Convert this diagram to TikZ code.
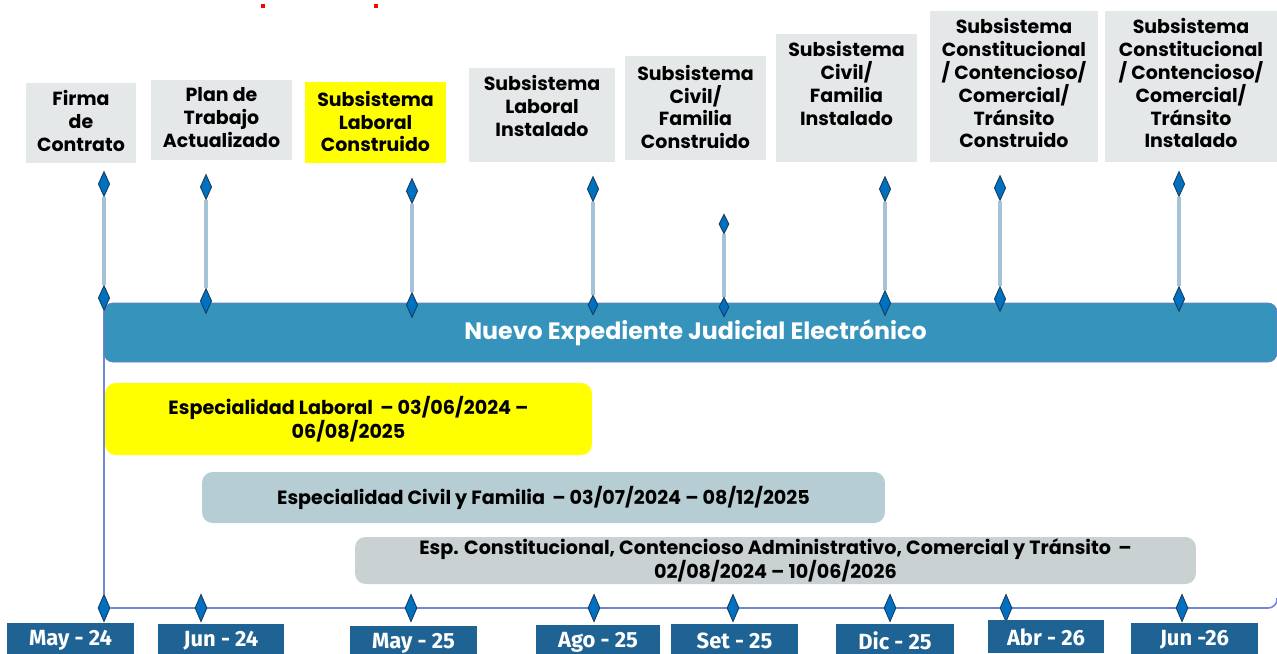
\documentclass[tikz,border=0pt]{standalone}
\usepackage{fontspec}
\setmainfont{Poppins}
\newfontfamily\firafont{Fira Sans}
\usetikzlibrary{positioning, shapes.geometric, backgrounds}
\definecolor{msgray}{RGB}{229, 232, 233}
\definecolor{msyellow}{RGB}{255, 255, 0}
\definecolor{barblue}{RGB}{54, 147, 187}
\definecolor{baredge}{RGB}{105, 125, 200}
\definecolor{civilbar}{RGB}{182, 205, 211}
\definecolor{constbar}{RGB}{201, 209, 211}
\definecolor{datenavy}{RGB}{31, 99, 149}
\definecolor{dmdblue}{RGB}{0, 112, 192}
\definecolor{dmdedge}{RGB}{25, 60, 95}
\definecolor{stemblue}{RGB}{165, 195, 215}
\definecolor{axisblue}{RGB}{114, 134, 214}

% box text: width, height, lines (top aligned)
\newcommand{\mstext}[3]{\parbox[c][#2][t]{#1}{\centering\vspace*{1.5mm}#3}}

\begin{document}
\begin{tikzpicture}[
  x=0.02cm, y=-0.02cm,
  msbox/.style={
    rectangle, fill=msgray, inner sep=0pt,
    font=\bfseries\fontsize{10.8}{13}\selectfont, text=black
  },
  msdiamond/.style={
    diamond, draw=dmdedge, fill=dmdblue, line width=0.5pt,
    inner sep=0pt, minimum width=2.3mm, minimum height=5mm
  },
  smalldiamond/.style={msdiamond, minimum width=2mm, minimum height=3.9mm},
  axdiamond/.style={msdiamond, minimum width=2.4mm, minimum height=5.5mm},
  stemline/.style={draw=stemblue, line width=2.2pt},
  axisline/.style={draw=axisblue, line width=0.9pt},
  phasebar/.style={
    rectangle, rounded corners=6pt, fill=#1, inner sep=0pt,
    align=center, font=\bfseries\fontsize{10.9}{13.6}\selectfont, text=black
  },
  datebox/.style={
    rectangle, fill=datenavy, anchor=north, inner sep=0pt,
    minimum width=2.54cm, minimum height=0.66cm,
    font=\firafont\bfseries\fontsize{12.5}{14}\selectfont, text=white
  },
]
\useasboundingbox (0,0) rectangle (1277,653);

%% ================================================================
%% STRAY MARKS (top)
%% ================================================================
\fill[red] (261,4) rectangle (265,8);
\fill[red] (374,4) rectangle (378,8);

%% ================================================================
%% MILESTONE BOXES
%% ================================================================
\node[msbox] (b1) at (81,123)
  {\mstext{2.2cm}{1.6cm}{Firma\\de\\Contrato}};
\node[msbox] (b2) at (221.5,120)
  {\mstext{2.82cm}{1.6cm}{Plan de\\Trabajo\\Actualizado}};
\node[msbox, fill=msyellow] (b3) at (375.5,122.5)
  {\mstext{2.82cm}{1.62cm}{\vspace*{0.3mm}Subsistema\\Laboral\\Construido}};
\node[msbox] (b4) at (542,115)
  {\mstext{2.92cm}{1.88cm}{Subsistema\\Laboral\\Instalado}};
\node[msbox] (b5) at (695.5,108)
  {\mstext{2.82cm}{2.08cm}{\vspace*{0.3mm}Subsistema\\Civil/\\Familia\\Construido}};
\node[msbox] (b6) at (846.5,98)
  {\mstext{2.82cm}{2.56cm}{Subsistema\\Civil/\\Familia\\Instalado}};
\node[msbox] (b7) at (1014,86.5)
  {\mstext{3.36cm}{3.02cm}{Subsistema\\Constitucional\\/ Contencioso/\\Comercial/\\Tránsito\\Construido}};
\node[msbox] (b8) at (1191,86.5)
  {\mstext{3.44cm}{3.02cm}{Subsistema\\Constitucional\\/ Contencioso/\\Comercial/\\Tránsito\\Instalado}};

%% ================================================================
%% MAIN BAR + PHASE BARS
%% ================================================================
\node[rectangle, fill=barblue, draw=baredge, line width=0.4pt,
      rounded corners=5pt, inner sep=0pt,
      minimum width=23.46cm, minimum height=1.18cm,
      font=\bfseries\fontsize{13.5}{15}\selectfont, text=white]
  (nej) at (690.5,332.5)
  {\hspace*{0.2cm}\raisebox{-0.07cm}{Nuevo Expediente Judicial Electrónico}};

\node[phasebar=msyellow, minimum width=9.74cm, minimum height=1.44cm]
  (laboral) at (348.5,419)
  {Especialidad Laboral \,– 03/06/2024 –\\06/08/2025};
\node[phasebar=civilbar, minimum width=13.66cm, minimum height=1.02cm]
  (civil) at (543.5,497.5)
  {Especialidad Civil y Familia \,– 03/07/2024 – 08/12/2025};
\node[phasebar=constbar, minimum width=16.82cm, minimum height=0.94cm]
  (const) at (775.5,560.5)
  {Esp. Constitucional, Contencioso Administrativo, Comercial y Tránsito \,–\\02/08/2024 – 10/06/2026};

%% ================================================================
%% STEM DIAMONDS (top / bottom)
%% ================================================================
\node[msdiamond]    (mt1) at (104,184) {};
\node[msdiamond]    (mt2) at (206,187) {};
\node[msdiamond]    (mt3) at (412,191) {};
\node[msdiamond]    (mt4) at (593,189) {};
\node[smalldiamond] (mt5) at (724,224) {};
\node[msdiamond]    (mt6) at (885,189) {};
\node[msdiamond]    (mt7) at (1000,188) {};
\node[msdiamond]    (mt8) at (1179,184) {};

\node[msdiamond]    (mb1) at (104,298) {};
\node[msdiamond]    (mb2) at (206,301) {};
\node[msdiamond]    (mb3) at (412,305) {};
\node[smalldiamond] (mb4) at (593,305) {};
\node[smalldiamond] (mb5) at (724,307) {};
\node[msdiamond]    (mb6) at (885,303) {};
\node[msdiamond]    (mb7) at (1000,299) {};
\node[msdiamond]    (mb8) at (1179,299) {};

%% ================================================================
%% TIME AXIS
%% ================================================================
\node[axdiamond] (ax1) at (104,608) {};
\node[axdiamond] (ax2) at (201,608) {};
\node[axdiamond] (ax3) at (411,608) {};
\node[axdiamond] (ax4) at (594,608) {};
\node[axdiamond] (ax5) at (733,608) {};
\node[axdiamond] (ax6) at (890,608) {};
\node[axdiamond] (ax7) at (1006,608) {};
\node[axdiamond] (ax8) at (1182,608) {};
\coordinate (axend) at (1277,598);

\begin{scope}[on background layer]
  % stems
  \draw[stemline] (mt1) -- (mb1);
  \draw[stemline] (mt2) -- (mb2);
  \draw[stemline] (mt3) -- (mb3);
  \draw[stemline] (mt4) -- (mb4);
  \draw[stemline] (mt5) -- (mb5);
  \draw[stemline] (mt6) -- (mb6);
  \draw[stemline] (mt7) -- (mb7);
  \draw[stemline] (mt8) -- (mb8);
  % axis
  \draw[axisline] (mb1) -- (ax1);
  \draw[axisline, rounded corners=5pt] (ax1) -| (axend);
\end{scope}

% Date labels
\node[datebox] (d1) at (70.5,623)  {May - 24};
\node[datebox, minimum width=2.52cm] (d2) at (221,624)  {Jun - 24};
\node[datebox] (d3) at (413.5,626) {May - 25};
\node[datebox, minimum width=2.48cm] (d4) at (598,625)  {Ago - 25};
\node[datebox] (d5) at (734.5,624) {Set - 25};
\node[datebox, minimum width=2.36cm] (d6) at (895,624)  {Dic - 25};
\node[datebox, minimum width=2.32cm] (d7) at (1046,620) {Abr - 26};
\node[datebox] (d8) at (1194.5,623) {Jun -26};

\end{tikzpicture}
\end{document}
